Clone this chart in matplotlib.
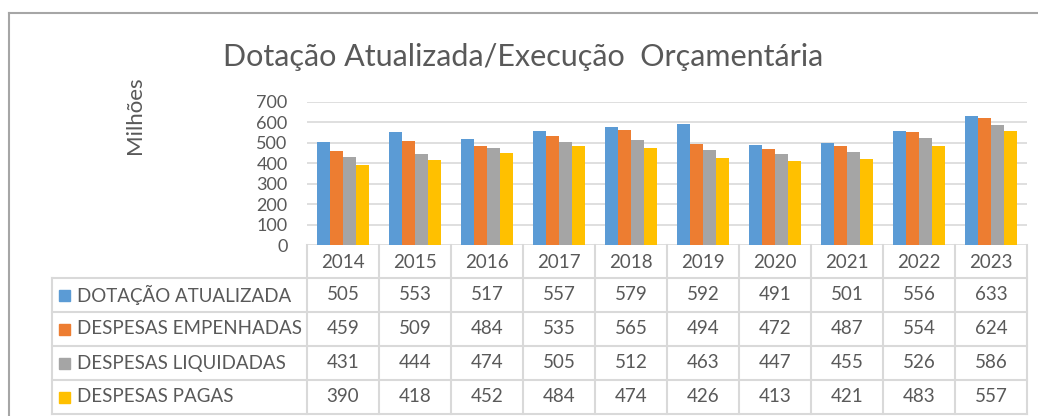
"""
Dotação Atualizada / Execução Orçamentária - bar chart with Excel-style data table
"""

import numpy as np
import matplotlib
matplotlib.use("Agg")
import matplotlib.pyplot as plt
from matplotlib.patches import Rectangle

plt.rcParams['font.family'] = ['Lato', 'DejaVu Sans']

# Data (millions)
years = ['2014', '2015', '2016', '2017', '2018', '2019', '2020', '2021', '2022', '2023']
series_names = ['DOTAÇÃO ATUALIZADA', 'DESPESAS EMPENHADAS', 'DESPESAS LIQUIDADAS', 'DESPESAS PAGAS']
dotacao = [505, 553, 517, 557, 579, 592, 491, 501, 556, 633]
empenhadas = [459, 509, 484, 535, 565, 494, 472, 487, 554, 624]
liquidadas = [431, 444, 474, 505, 512, 463, 447, 455, 526, 586]
pagas = [390, 418, 452, 484, 474, 426, 413, 421, 483, 557]
series = [dotacao, empenhadas, liquidadas, pagas]
colors = ['#5B9BD5', '#ED7D31', '#A5A5A5', '#FFC000']

TXT = '#595959'
GRID = '#D9D9D9'
W, H = 1038, 416

fig = plt.figure(figsize=(W / 100, H / 100), dpi=100)

# overlay axes in pixel coordinates for frame and table
ov = fig.add_axes([0, 0, 1, 1])
ov.set_xlim(0, W)
ov.set_ylim(H, 0)
ov.axis('off')

# outer chart frame
ov.plot([9, 9], [13, H], color='#A6A6A6', lw=1.5)
ov.plot([9, W], [13, 13], color='#A6A6A6', lw=1.5)

# plot area
px_left, px_right, px_top, px_bottom = 307, 1027, 102, 245
ax = fig.add_axes([px_left / W, 1 - px_bottom / H,
                   (px_right - px_left) / W, (px_bottom - px_top) / H])
x = np.arange(len(years)) + 0.5
bw = 0.183
for i, (vals, c) in enumerate(zip(series, colors)):
    ax.bar(x + (i - 1.5) * bw, vals, width=bw, color=c, zorder=3)
ax.set_xlim(0, len(years))
ax.set_ylim(0, 700)
ax.set_yticks(range(0, 701, 100))
ax.yaxis.grid(True, color=GRID, lw=1.2, zorder=0)
ax.set_xticks([])
for s in ax.spines.values():
    s.set_visible(False)
ax.tick_params(axis='y', length=0, pad=14, labelsize=13, labelcolor=TXT)
ax.set_facecolor('none')

# title and axis label
fig.text(523 / W, 1 - 57 / H, 'Dotação Atualizada/Execução  Orçamentária',
         ha='center', va='center', fontsize=22, color=TXT)
fig.text(135 / W, 1 - 115 / H, 'Milhões', rotation=90,
         ha='center', va='center', fontsize=16, color=TXT)

# data table
col_w = (px_right - px_left) / len(years)
row_edges = [245, 278, 312, 346, 380, 414]
tab_left = 52
tl = dict(color=GRID, lw=1.5, zorder=1)
fs_tab = 13.5

ov.plot([px_left, px_left], [row_edges[0], row_edges[-1]], **tl)
ov.plot([px_right, px_right], [row_edges[0], row_edges[-1]], **tl)
for k in range(1, len(years)):
    xx = px_left + k * col_w
    ov.plot([xx, xx], [row_edges[0], row_edges[-1]], **tl)
ov.plot([tab_left, tab_left], [row_edges[1], row_edges[-1]], **tl)
for yy in row_edges[1:]:
    ov.plot([tab_left, px_right], [yy, yy], **tl)

for k, yr in enumerate(years):
    ov.text(px_left + (k + 0.5) * col_w, (row_edges[0] + row_edges[1]) / 2 + 1, yr,
            ha='center', va='center', fontsize=fs_tab, color=TXT)

for r, (name, vals, c) in enumerate(zip(series_names, series, colors)):
    yc = (row_edges[r + 1] + row_edges[r + 2]) / 2
    ov.add_patch(Rectangle((59, yc - 5.5), 11, 11, color=c))
    ov.text(77, yc, name, ha='left', va='center', fontsize=fs_tab, color=TXT)
    for k, v in enumerate(vals):
        ov.text(px_left + (k + 0.5) * col_w, yc, str(v),
                ha='center', va='center', fontsize=fs_tab, color=TXT)

fig.savefig('out.png', dpi=100)
